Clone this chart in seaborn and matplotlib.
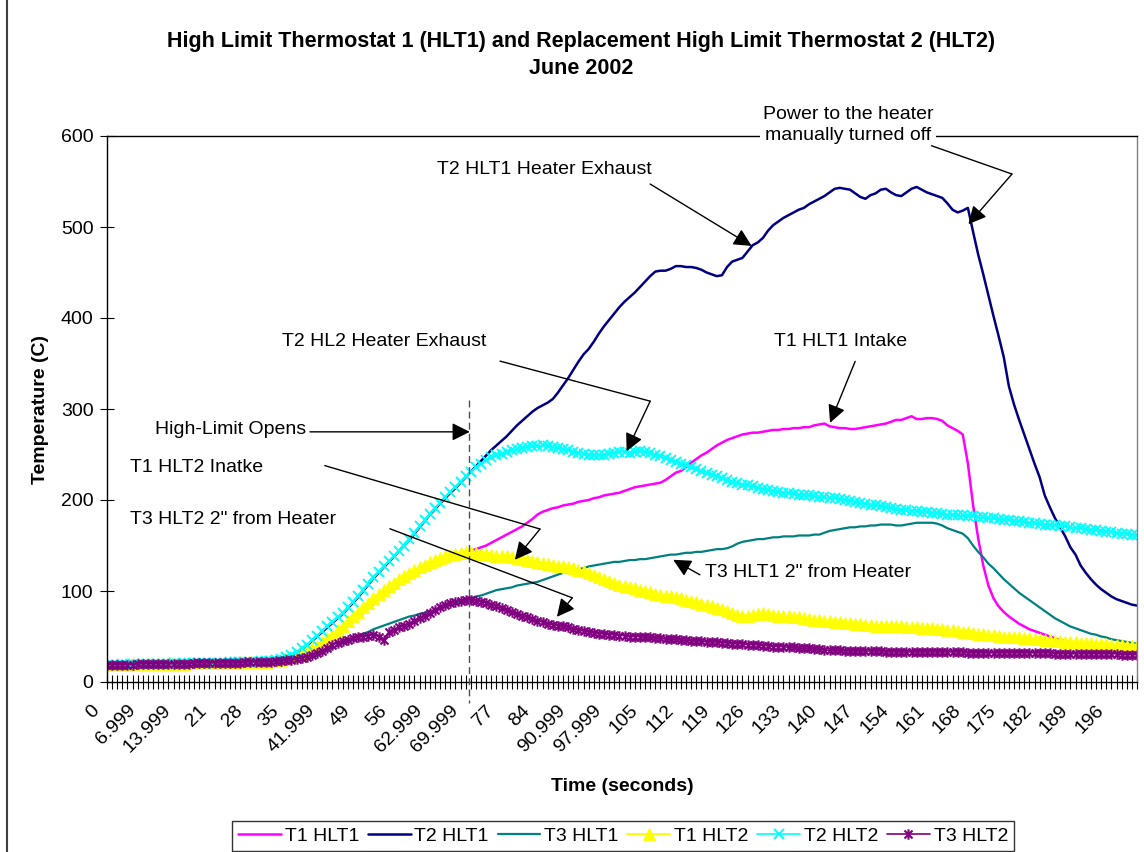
import numpy as np
import pandas as pd
import matplotlib
matplotlib.use("Agg")
import matplotlib.pyplot as plt
import matplotlib.transforms as mtransforms
from matplotlib.lines import Line2D
from matplotlib.path import Path
import seaborn as sns

# ---------------------------------------------------------------- data
# one reading per second; tick labels every 7th reading
time_labels = ["0", "6.999", "13.999", "21", "28", "35", "41.999", "49", "56",
               "62.999", "69.999", "77", "84", "90.999", "97.999", "105", "112",
               "119", "126", "133", "140", "147", "154", "161", "168", "175",
               "182", "189", "196"]

t1_hlt1 = [19, 19, 19, 19, 19, 19, 20, 20, 20, 20,
           20, 20, 20, 20, 20, 20, 20, 21, 21, 21,
           21, 21, 21, 21, 21, 21, 21, 22, 22, 22,
           22, 22, 22, 23, 23, 24, 25, 27, 29, 31,
           34, 37, 40, 44, 48, 52, 57, 62, 66, 71,
           76, 81, 86, 91, 95, 99, 103, 107, 111, 114,
           117, 120, 123, 126, 128, 130, 132, 134, 137, 140,
           142, 144, 146, 148, 150, 153, 156, 159, 162, 165,
           168, 171, 175, 179, 184, 187, 189, 191, 192, 194,
           195, 196, 198, 199, 200, 202, 203, 205, 206, 207,
           208, 210, 212, 214, 215, 216, 217, 218, 219, 222,
           226, 230, 232, 236, 241, 245, 249, 252, 256, 260,
           263, 266, 268, 270, 272, 273, 274, 274, 275, 276,
           277, 277, 278, 278, 279, 279, 280, 280, 282, 283,
           284, 281, 280, 279, 279, 278, 278, 279, 280, 281,
           282, 283, 284, 286, 288, 288, 290, 292, 289, 289,
           290, 290, 289, 287, 282, 279, 276, 272, 240, 195,
           158, 128, 106, 92, 83, 77, 72, 68, 64, 61,
           58, 56, 54, 52, 50, 48, 46, 45, 44, 43,
           42, 41, 41, 40, 40, 39, 39, 38, 38, 38,
           37, 37]

t2_hlt1 = [20, 20, 20, 20, 20, 20, 20, 20, 21, 21,
           21, 21, 21, 21, 21, 21, 21, 21, 22, 22,
           22, 22, 22, 22, 22, 22, 22, 23, 23, 23,
           23, 23, 23, 24, 25, 27, 29, 32, 36, 40,
           45, 50, 55, 60, 65, 70, 75, 81, 87, 93,
           100, 107, 114, 120, 126, 132, 138, 144, 150, 156,
           163, 170, 177, 184, 190, 196, 202, 208, 213, 219,
           225, 231, 237, 243, 249, 255, 260, 265, 270, 276,
           282, 287, 292, 297, 301, 304, 307, 311, 318, 326,
           334, 343, 352, 360, 366, 374, 383, 391, 398, 405,
           412, 418, 423, 428, 434, 440, 446, 451, 452, 452,
           454, 457, 457, 456, 456, 455, 453, 450, 448, 446,
           447, 456, 462, 464, 466, 473, 480, 483, 488, 496,
           502, 506, 510, 513, 516, 519, 521, 525, 528, 531,
           534, 538, 542, 543, 542, 541, 537, 533, 531, 535,
           537, 541, 542, 538, 535, 534, 538, 542, 544, 541,
           538, 536, 534, 532, 526, 519, 516, 518, 521, 495,
           470, 448, 425, 402, 380, 357, 325, 305, 288, 272,
           256, 240, 225, 205, 192, 180, 170, 160, 148, 140,
           128, 120, 113, 107, 102, 98, 94, 91, 89, 87,
           85, 84]

t3_hlt1 = [19, 19, 19, 19, 20, 20, 20, 20, 20, 20,
           20, 20, 20, 20, 21, 21, 21, 21, 21, 21,
           21, 21, 21, 21, 21, 22, 22, 22, 22, 22,
           22, 22, 22, 23, 23, 23, 23, 23, 24, 25,
           27, 29, 32, 34, 37, 40, 43, 45, 48, 50,
           53, 55, 58, 60, 62, 64, 66, 68, 70, 72,
           73, 75, 76, 78, 79, 81, 83, 85, 86, 88,
           90, 92, 94, 95, 97, 99, 101, 102, 103, 104,
           106, 107, 108, 109, 110, 112, 114, 116, 118, 120,
           121, 123, 124, 125, 127, 128, 129, 130, 131, 132,
           132, 133, 134, 134, 135, 135, 136, 137, 138, 139,
           140, 140, 141, 142, 142, 143, 143, 144, 145, 146,
           146, 147, 149, 152, 154, 155, 156, 157, 157, 158,
           159, 159, 160, 160, 160, 161, 161, 161, 162, 162,
           164, 166, 167, 168, 169, 170, 170, 171, 171, 172,
           172, 173, 173, 173, 172, 172, 173, 174, 175, 175,
           175, 175, 174, 172, 169, 167, 165, 163, 158, 150,
           143, 137, 130, 125, 119, 113, 108, 103, 98, 94,
           90, 86, 82, 78, 74, 70, 67, 64, 61, 59,
           57, 55, 53, 52, 50, 49, 47, 46, 45, 44,
           43, 42]

t1_hlt2 = [19, 19, 19, 19, 19, 20, 20, 20, 20, 20,
           20, 20, 20, 20, 20, 20, 21, 21, 21, 21,
           21, 21, 21, 21, 21, 21, 22, 22, 22, 22,
           22, 22, 23, 23, 24, 25, 27, 29, 31, 34,
           37, 40, 44, 48, 52, 57, 62, 67, 72, 77,
           82, 87, 92, 97, 101, 105, 109, 113, 117, 120,
           123, 126, 129, 132, 134, 136, 138, 140, 141, 142,
           143, 143, 142, 141, 141, 140, 139, 138, 138, 137,
           136, 135, 134, 133, 132, 131, 130, 129, 128, 127,
           126, 125, 123, 122, 120, 118, 115, 113, 111, 109,
           107, 106, 104, 103, 101, 100, 99, 97, 96, 95,
           94, 93, 92, 90, 89, 88, 86, 85, 83, 81,
           80, 78, 76, 74, 72, 73, 74, 75, 76, 75,
           74, 73, 72, 72, 71, 71, 70, 69, 68, 68,
           67, 67, 66, 66, 65, 65, 64, 64, 63, 63,
           62, 62, 62, 61, 61, 61, 60, 60, 60, 59,
           59, 59, 58, 58, 57, 57, 56, 55, 55, 54,
           53, 53, 52, 52, 51, 50, 50, 49, 49, 48,
           48, 47, 47, 46, 46, 45, 45, 44, 44, 44,
           43, 43, 43, 42, 42, 42, 41, 41, 41, 40,
           40, 40]

t2_hlt2 = [19, 19, 19, 20, 19, 20, 20, 20, 20, 20,
           20, 20, 20, 21, 20, 21, 21, 21, 21, 21,
           21, 21, 21, 21, 22, 22, 22, 22, 22, 22,
           23, 23, 23, 24, 25, 27, 30, 33, 37, 41,
           46, 51, 56, 61, 66, 71, 76, 82, 88, 94,
           101, 108, 115, 121, 127, 133, 138, 144, 150, 157,
           164, 171, 178, 185, 191, 197, 203, 209, 214, 220,
           226, 231, 236, 240, 244, 247, 249, 251, 253, 255,
           256, 257, 258, 259, 259, 260, 259, 258, 257, 256,
           255, 253, 252, 251, 250, 250, 249, 250, 251, 252,
           253, 253, 252, 253, 254, 253, 252, 250, 248, 246,
           244, 242, 240, 238, 236, 234, 232, 230, 228, 226,
           224, 222, 220, 219, 217, 216, 215, 213, 212, 211,
           210, 209, 208, 208, 207, 206, 206, 205, 204, 203,
           203, 202, 202, 201, 200, 199, 198, 197, 196, 195,
           194, 193, 192, 191, 190, 189, 189, 188, 188, 187,
           187, 186, 186, 185, 184, 184, 183, 183, 182, 182,
           181, 181, 180, 180, 179, 178, 178, 177, 177, 176,
           175, 175, 174, 173, 173, 172, 171, 171, 170, 169,
           169, 168, 167, 167, 166, 165, 165, 164, 163, 163,
           162, 161]

t3_hlt2 = [19, 19, 19, 19, 19, 19, 20, 20, 20, 20,
           20, 20, 20, 20, 20, 20, 20, 21, 21, 21,
           21, 21, 21, 21, 21, 21, 21, 22, 22, 22,
           22, 22, 22, 23, 23, 24, 24, 25, 26, 28,
           30, 32, 34, 37, 41, 43, 45, 46, 48, 49,
           50, 51, 52, 50, 46, 55, 57, 60, 62, 64,
           67, 70, 73, 76, 79, 82, 85, 87, 88, 89,
           90, 90, 89, 88, 87, 85, 83, 81, 79, 77,
           75, 73, 71, 69, 67, 66, 64, 63, 62, 61,
           60, 58, 57, 56, 55, 54, 53, 53, 52, 52,
           51, 51, 50, 50, 50, 49, 49, 48, 48, 47,
           47, 47, 46, 46, 45, 45, 45, 44, 44, 44,
           43, 43, 42, 42, 42, 41, 41, 41, 40, 40,
           39, 39, 39, 38, 38, 37, 37, 37, 36, 36,
           35, 35, 35, 35, 34, 34, 34, 34, 34, 34,
           34, 34, 33, 33, 33, 33, 33, 33, 33, 33,
           33, 33, 33, 33, 33, 33, 33, 33, 32, 32,
           32, 32, 32, 32, 32, 32, 32, 32, 32, 32,
           32, 32, 32, 32, 32, 31, 31, 31, 31, 31,
           31, 31, 31, 31, 31, 31, 31, 31, 30, 30,
           30, 30]

series_names = ["T1 HLT1", "T2 HLT1", "T3 HLT1", "T1 HLT2", "T2 HLT2", "T3 HLT2"]
series_values = [t1_hlt1, t2_hlt1, t3_hlt1, t1_hlt2, t2_hlt2, t3_hlt2]
for vals in series_values:
    assert len(vals) == len(t1_hlt1)

n = len(t1_hlt1)
df = pd.DataFrame({"reading": np.arange(n)})
for name, vals in zip(series_names, series_values):
    df[name] = vals

# ---------------------------------------------------------------- style
sns.set_theme(style="white")
plt.rcParams["font.family"] = ["Liberation Sans", "DejaVu Sans"]
for key in ["text.color", "axes.labelcolor", "xtick.color", "ytick.color"]:
    plt.rcParams[key] = "black"
FS = 14
TITLE_FS = 15.5

# Excel-like asterisk marker: an x crossed by a vertical stroke
star = Path([(-1, -1), (1, 1), (-1, 1), (1, -1), (0, -1.3), (0, 1.3)],
            [Path.MOVETO, Path.LINETO, Path.MOVETO, Path.LINETO,
             Path.MOVETO, Path.LINETO])

styles = {
    "T1 HLT1": dict(color="#FF00FF", linewidth=1.8),
    "T2 HLT1": dict(color="#000080", linewidth=1.8),
    "T3 HLT1": dict(color="#008080", linewidth=1.6),
    "T1 HLT2": dict(color="#FFFF00", linewidth=1.4, marker="^", markersize=8,
                    markerfacecolor="#FFFF00", markeredgecolor="#FFFF00",
                    markeredgewidth=0.6),
    "T2 HLT2": dict(color="#00FFFF", linewidth=1.2, marker="x", markersize=7.5,
                    markeredgecolor="#00FFFF", markeredgewidth=1.4),
    "T3 HLT2": dict(color="#800080", linewidth=1.2, marker=star, markersize=7.5,
                    markerfacecolor="none", markeredgecolor="#800080",
                    markeredgewidth=1.5),
}

fig = plt.figure(figsize=(11.44, 8.52), dpi=100)
ax = fig.add_axes([107 / 1144, 170 / 852, 1030 / 1144, 546 / 852])

for name in series_names:
    sns.lineplot(data=df, x="reading", y=name, ax=ax, label=name,
                 legend=False, estimator=None, **styles[name])

if ax.get_legend() is not None:
    ax.get_legend().remove()

ax.set_xlim(0, n - 1)
ax.set_ylim(0, 600)
ax.set_yticks(range(0, 601, 100))

# axes frame
for side in ["left", "bottom", "top"]:
    ax.spines[side].set_color("black")
    ax.spines[side].set_linewidth(1.0)
ax.spines["right"].set_color("#808080")
ax.spines["right"].set_linewidth(1.0)

ax.set_xticks(np.arange(0, n, 7)[:len(time_labels)])
ax.set_xticklabels(time_labels)
ax.set_xticks(np.arange(n), minor=True)
ax.tick_params(axis="x", which="both", direction="inout", length=9.4,
               width=0.8, color="black", bottom=True)
ax.tick_params(axis="x", which="major", labelsize=FS, pad=14)
ax.tick_params(axis="y", which="major", direction="inout", length=9.4,
               width=0.8, color="black", labelsize=FS, pad=5, left=True)

shift = mtransforms.ScaledTranslation(-10 / 100, 0, fig.dpi_scale_trans)
for lbl in ax.get_xticklabels():
    lbl.set_rotation(45)
    lbl.set_ha("right")
    lbl.set_va("center")
    lbl.set_rotation_mode("anchor")
    lbl.set_transform(lbl.get_transform() + shift)

ax.set_xlabel("Time (seconds)", fontsize=FS, fontweight="bold")
ax.set_ylabel("Temperature (C)", fontsize=FS, fontweight="bold")
ax.xaxis.set_label_coords(0.5, -(778 - 682) / 546)
ax.yaxis.set_label_coords((49 - 107) / 1030, 0.5)

# title
fig.text(581 / 1144, 1 - 42 / 852,
         "High Limit Thermostat 1 (HLT1) and Replacement High Limit Thermostat 2 (HLT2)",
         ha="center", va="center", fontsize=TITLE_FS, fontweight="bold")
fig.text(581 / 1144, 1 - 69 / 852, "June 2002",
         ha="center", va="center", fontsize=TITLE_FS, fontweight="bold")

# ---------------------------------------------------------------- annotations
arrow = dict(arrowstyle="-|>,head_length=0.6,head_width=0.3", color="black",
             lw=1.0, shrinkA=0, shrinkB=0, mutation_scale=18)


def note(text, xy, ha="left", **kw):
    ax.text(xy[0], xy[1], text, ha=ha, va="center", fontsize=FS,
            clip_on=False, zorder=10, **kw)


def leader(points, tip):
    xs, ys = zip(*points)
    ax.plot(xs, ys, color="black", lw=1.0, clip_on=False, zorder=10)
    ax.annotate("", xy=tip, xytext=points[-1], arrowprops=arrow,
                annotation_clip=False, zorder=10)


# high-limit opening time
opens_at = 70.6
ax.plot([opens_at, opens_at], [310, -23], color="#505050", lw=1.0,
        ls=(0, (5, 3)), clip_on=False, zorder=9)

note("T2 HLT1 Heater Exhaust", (85.4, 563.7), ha="center")
leader([(106.0, 547.2)], (125.8, 479.2))

note("Power to the heater\nmanually turned off", (144.6, 612.1), ha="center",
     linespacing=1.3,
     bbox=dict(facecolor="white", edgecolor="none", pad=2))
leader([(160.9, 589.3), (176.6, 558.2)], (168.1, 503.1))

note("T1 HLT1 Intake", (143.2, 374.3), ha="center")
leader([(146.0, 352.3)], (141.1, 284.8))

note("T2 HL2 Heater Exhaust", (54.0, 374.3), ha="center")
leader([(76.7, 352.6), (106.0, 308.6)], (101.4, 253.5))

note("High-Limit Opens", (9.4, 277.4))
leader([(39.6, 274.9)], (70.8, 274.9))

note("T1 HLT2 Inatke", (4.5, 235.6))
leader([(42.5, 237.8), (84.5, 168.1)], (79.6, 134.3))

note("T3 HLT2 2\" from Heater", (4.5, 178.3))
leader([(55.2, 168.4), (90.8, 92.5)], (87.8, 71.6))

note("T3 HLT1 2\" from Heater", (116.7, 120.0))
leader([(115.7, 117.8)], (110.5, 134.3))

# ---------------------------------------------------------------- legend
handles = {ln.get_label(): ln for ln in ax.get_lines()}
leg = fig.legend([handles[s] for s in series_names], series_names,
                 loc="center", bbox_to_anchor=(623 / 1144, 1 - 836 / 852),
                 ncol=6, frameon=True, fancybox=False, edgecolor="black",
                 fontsize=FS, handlelength=2.2, handletextpad=0.2,
                 columnspacing=0.45, borderpad=0.3, borderaxespad=0)
leg.get_frame().set_linewidth(1.0)

# chart border on the left edge
fig.add_artist(Line2D([7 / 1144, 7 / 1144], [0, 1], color="#404040", lw=1.5,
                      transform=fig.transFigure))

fig.savefig("out.png", dpi=100)
